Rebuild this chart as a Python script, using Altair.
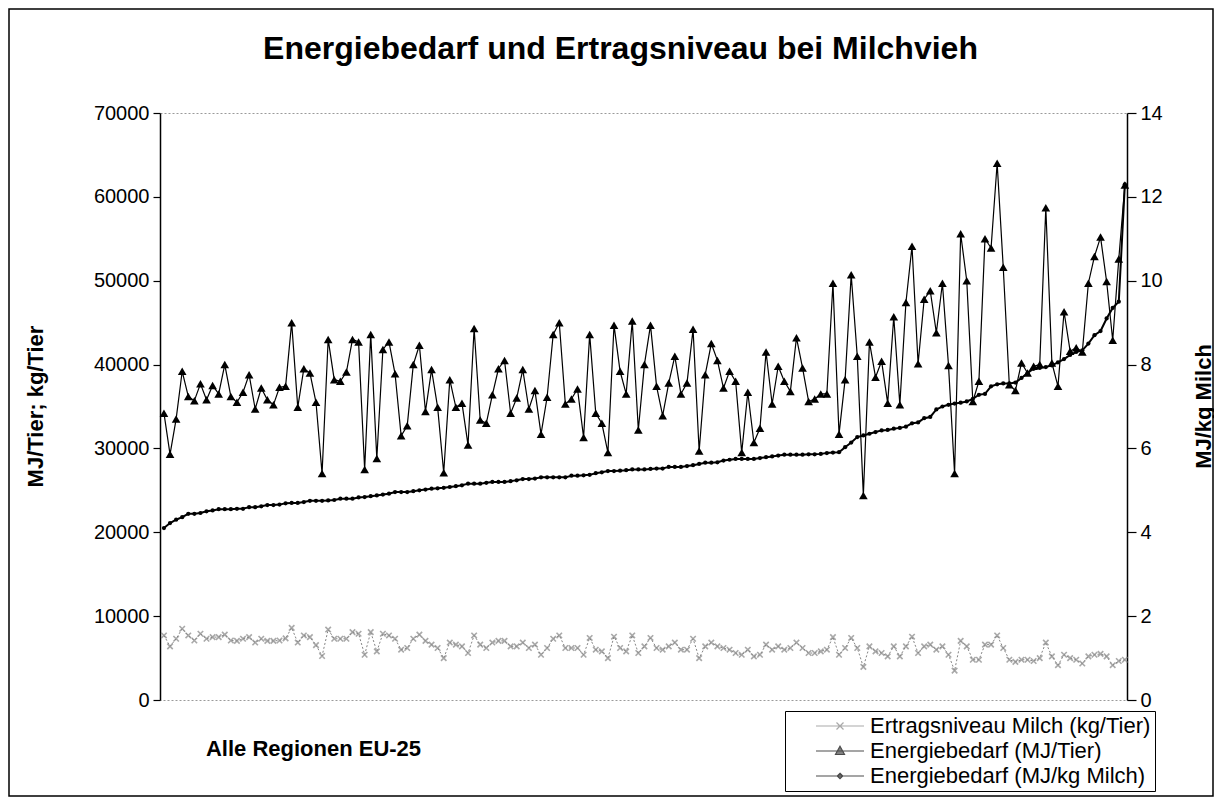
import altair as alt
import pandas as pd

# ---------------- data ----------------
tier = [34200, 29300, 33500, 39200, 36200, 35700, 37700, 35800, 37500, 36500,
        40000, 36200, 35500, 36700, 38800, 34700, 37200, 35800, 35200, 37300,
        37400, 45000, 34900, 39500, 39000, 35500, 27000, 43000, 38200, 38000,
        39100, 43000,
        42700, 27500, 43600, 28800, 41800, 42700, 38900, 31500, 32700, 40000,
        42300, 34400, 39400, 34900, 27100, 38200, 34900, 35400, 30400, 44300,
        33400, 33000, 36400, 39500, 40500, 34200, 36000, 39400, 34700, 36900,
        31700, 36100,
        43600, 45000, 35300, 35900, 37100, 31300, 43600, 34200, 33000, 29500,
        44700, 39200, 36500, 45200, 32200, 40000, 44700, 37400, 33900, 37800,
        41000, 36500, 37800, 44200, 29700, 38800, 42500, 40500, 37200, 39200,
        38000,
        29500, 36700, 30700, 32400, 41500, 35300, 39800, 38000, 36800, 43200,
        39600, 35600, 35900, 36500, 36500, 49700, 31700, 38200, 50700, 41000,
        24400, 42700, 38500, 40400, 35400, 45700, 35200, 47400, 54100, 40100,
        47800, 48800,
        43800, 49700, 39900, 27000, 55600, 50000, 35600, 38000, 55000, 53900,
        64000, 51600, 37600, 36900, 40200, 39000, 39800, 40000, 58700, 40200,
        37400, 46300, 41600, 42000, 41500, 49700, 52900, 55200, 49900, 42900,
        52600, 61400]

ertrag = [7700, 6400, 7300, 8500, 7700, 7100, 7900, 7300, 7500, 7500,
          7800, 7100, 7050, 7300, 7500, 6850, 7300, 7050, 7050, 7100,
          7350, 8600, 6850, 7700, 7500, 6550, 5250, 8400, 7300, 7300,
          7300, 8100,
          7900, 5400, 8100, 5800, 7900, 7700, 7300, 6000, 6200, 7300,
          7800, 7050, 6600, 6200, 5000, 6850, 6600, 6400, 5600, 7700,
          6600, 6200, 6850, 7050, 7050, 6400, 6400, 6850, 6200, 6600,
          5400, 6200,
          7300, 7700, 6200, 6200, 6200, 5400, 7400, 6000, 5800, 5000,
          7550, 6200, 5800, 7700, 5600, 6400, 7400, 6200, 6000, 6400,
          6850, 6000, 6000, 7300, 5000, 6400, 6850, 6400, 6200, 6000,
          5600,
          5400, 6000, 5200, 5400, 6600, 6000, 6400, 6000, 6200, 6850,
          6200, 5600, 5600, 5800, 6000, 7500, 5400, 6200, 7400, 6200,
          3950, 6400, 5800, 5600, 5200, 6400, 5200, 6400, 7550, 5600,
          6400, 6600,
          6000, 6400, 5400, 3500, 7050, 6400, 4800, 4800, 6600, 6600,
          7700, 6200, 4800, 4550, 4800, 4800, 4650, 5000, 6850, 5200,
          4150, 5400, 5000, 4800, 4350, 5200, 5400, 5500, 5200, 4150,
          4650, 4800]

kg = [4.10, 4.22, 4.30, 4.36, 4.44, 4.44, 4.46, 4.50, 4.52, 4.55,
      4.55, 4.55, 4.56, 4.56, 4.60, 4.60, 4.62, 4.65, 4.65, 4.66,
      4.69, 4.70, 4.70, 4.72, 4.75, 4.75, 4.75, 4.76, 4.77, 4.80,
      4.80, 4.80,
      4.83, 4.84, 4.86, 4.88, 4.90, 4.92, 4.96, 4.96, 4.96, 4.98,
      5.00, 5.02, 5.04, 5.05, 5.06, 5.08, 5.10, 5.12, 5.16, 5.16,
      5.16, 5.18, 5.20, 5.20, 5.20, 5.22, 5.24, 5.27, 5.27, 5.28,
      5.31, 5.31,
      5.31, 5.31, 5.31, 5.35, 5.35, 5.36, 5.37, 5.41, 5.43, 5.46,
      5.46, 5.47, 5.48, 5.50, 5.50, 5.50, 5.51, 5.52, 5.52, 5.56,
      5.56, 5.56, 5.58, 5.60, 5.63, 5.66, 5.66, 5.67, 5.71, 5.73,
      5.75,
      5.75, 5.75, 5.75, 5.77, 5.79, 5.81, 5.83, 5.85, 5.85, 5.85,
      5.85, 5.86, 5.86, 5.87, 5.89, 5.90, 5.91, 6.03, 6.14, 6.27,
      6.31, 6.35, 6.39, 6.43, 6.44, 6.47, 6.49, 6.52, 6.60, 6.62,
      6.72, 6.75,
      6.93, 7.00, 7.04, 7.07, 7.09, 7.12, 7.18, 7.28, 7.30, 7.48,
      7.53, 7.55, 7.55, 7.57, 7.68, 7.80, 7.90, 7.92, 7.94, 7.98,
      8.05, 8.13, 8.23, 8.30, 8.34, 8.50, 8.70, 8.80, 9.10, 9.35,
      9.50, 12.30]

series_names = ["Ertragsniveau Milch (kg/Tier)",
                "Energiebedarf (MJ/Tier)",
                "Energiebedarf (MJ/kg Milch)"]
left_ticks = [0, 10000, 20000, 30000, 40000, 50000, 60000, 70000]
right_ticks = [0, 2, 4, 6, 8, 10, 12, 14]

# ---------------- styles ----------------
FONT = "Liberation Sans"
GRAY = "#858585"
BLACK = "#000000"
W, H = 967, 587
PAD = {"left": 152, "top": 105, "right": 87, "bottom": 97}

n = len(tier)
df = pd.DataFrame({"idx": list(range(1, n + 1)), "tier": tier,
                   "ertrag": ertrag, "kg": kg})

x_scale = alt.Scale(domain=[0.35, n + 0.35], nice=False, zero=False)
x_axis = alt.Axis(title="Alle Regionen EU-25", domain=False, ticks=False,
                  labels=False, grid=False, titleFont=FONT, titleFontSize=22,
                  titleFontWeight="bold", titleColor=BLACK, titleX=153,
                  titleY=55, titleAlign="center", titleBaseline="alphabetic")
X = alt.X("idx:Q", scale=x_scale, axis=x_axis)

left_scale = alt.Scale(domain=[0, 70000], nice=False, zero=True)
left_axis = alt.Axis(values=left_ticks, format="d", grid=False,
                     domainColor=BLACK, domainWidth=1.5, tickColor=BLACK,
                     tickSize=7, tickWidth=1.2, labelFont=FONT,
                     labelFontSize=20, labelColor=BLACK, labelPadding=4,
                     title="MJ/Tier; kg/Tier", titleFont=FONT,
                     titleFontSize=22, titleFontWeight="bold",
                     titleColor=BLACK, titleX=-125, titleY=293,
                     titleAngle=270, titleAlign="center",
                     titleBaseline="middle")

right_scale = alt.Scale(domain=[0, 14], nice=False, zero=True)
right_axis = alt.Axis(orient="right", values=right_ticks, format="d",
                      grid=False, domainColor=BLACK, domainWidth=1.5,
                      tickColor=BLACK, tickSize=9, tickWidth=1.2,
                      labelFont=FONT, labelFontSize=20, labelColor=BLACK,
                      labelPadding=4, title="MJ/kg Milch", titleFont=FONT,
                      titleFontSize=22, titleFontWeight="bold",
                      titleColor=BLACK, titleX=76, titleY=293,
                      titleAngle=270, titleAlign="center",
                      titleBaseline="middle")

base = alt.Chart(df)

# Ertragsniveau (gray, dotted, x markers)
ertrag_line = base.mark_line(color=GRAY, strokeWidth=1, strokeDash=[2, 2]).encode(
    x=X, y=alt.Y("ertrag:Q", scale=left_scale, axis=left_axis))
ertrag_pts = base.mark_point(shape="M-1,-1L1,1M-1,1L1,-1", filled=False,
                             stroke=GRAY, strokeWidth=1.6, size=30).encode(
    x=X, y=alt.Y("ertrag:Q", scale=left_scale, axis=left_axis))

# Energiebedarf MJ/Tier (black, triangles)
tier_line = base.mark_line(color=BLACK, strokeWidth=1.2).encode(
    x=X, y=alt.Y("tier:Q", scale=left_scale, axis=left_axis))
tier_pts = base.mark_point(shape="triangle-up", filled=True, color=BLACK,
                           size=75, opacity=1).encode(
    x=X, y=alt.Y("tier:Q", scale=left_scale, axis=left_axis))

# Legend (from a clipped helper layer)
leg_paths = ["M3.2,0H12.8M7.3,-0.7L8.7,0.7M7.3,0.7L8.7,-0.7",
             "M3.2,0H12.8M8,-0.95L8.9,0.7H7.1Z",
             "M3.2,0H12.8M8,-0.55L8.55,0L8,0.55L7.45,0Z"]
leg_colors = [GRAY, BLACK, BLACK]
legend = alt.Legend(title=None, orient="none", legendX=625, legendY=598,
                    direction="vertical", labelFont=FONT, labelFontSize=22,
                    labelColor=BLACK, labelLimit=600, labelOffset=59,
                    symbolSize=100, symbolStrokeWidth=1.2,
                    strokeColor=BLACK, fillColor="white", padding=4,
                    rowPadding=3, cornerRadius=0)
leg_df = pd.DataFrame({"serie": series_names, "idx": [-50, -50, -50],
                       "v": [0, 0, 0]})
leg_layer = alt.Chart(leg_df).mark_point(clip=True, filled=True, size=100).encode(
    x=X, y=alt.Y("v:Q", scale=left_scale, axis=left_axis),
    shape=alt.Shape("serie:N", scale=alt.Scale(domain=series_names, range=leg_paths), legend=legend),
    fill=alt.Fill("serie:N", scale=alt.Scale(domain=series_names, range=leg_colors), legend=legend),
    stroke=alt.Stroke("serie:N", scale=alt.Scale(domain=series_names, range=leg_colors), legend=legend),
)

# Outer chart frame
frame = alt.Chart(pd.DataFrame({"a": [0]})).mark_rect(
    fill="transparent", stroke=BLACK, strokeWidth=1.5).encode(
    x=alt.value(-151), x2=alt.value(W + PAD["right"] - 1),
    y=alt.value(-104), y2=alt.value(H + PAD["bottom"] - 1))

left_group = alt.layer(frame, ertrag_line, ertrag_pts, tier_line, tier_pts, leg_layer)

# Energiebedarf MJ/kg Milch (right axis)
kg_line = base.mark_line(color=BLACK, strokeWidth=2).encode(
    x=X, y=alt.Y("kg:Q", scale=right_scale, axis=right_axis))
kg_pts = base.mark_point(shape="circle", filled=True, color=BLACK, size=18,
                         opacity=1).encode(
    x=X, y=alt.Y("kg:Q", scale=right_scale, axis=right_axis))
right_group = alt.layer(kg_line, kg_pts)

chart = alt.layer(left_group, right_group).resolve_scale(
    y="independent"
).properties(
    width=W, height=H, padding=PAD,
    autosize=alt.AutoSizeParams(type="none"),
    title=alt.TitleParams(text="Energiebedarf und Ertragsniveau bei Milchvieh",
                          font=FONT, fontSize=32, fontWeight="bold",
                          color=BLACK, anchor="middle", baseline="alphabetic",
                          offset=-83, dx=-23),
).configure_view(stroke="#9a9a9a", strokeDash=[2, 2], strokeWidth=1)

chart.save("out.html", embed_options={"renderer": "svg", "actions": False})
